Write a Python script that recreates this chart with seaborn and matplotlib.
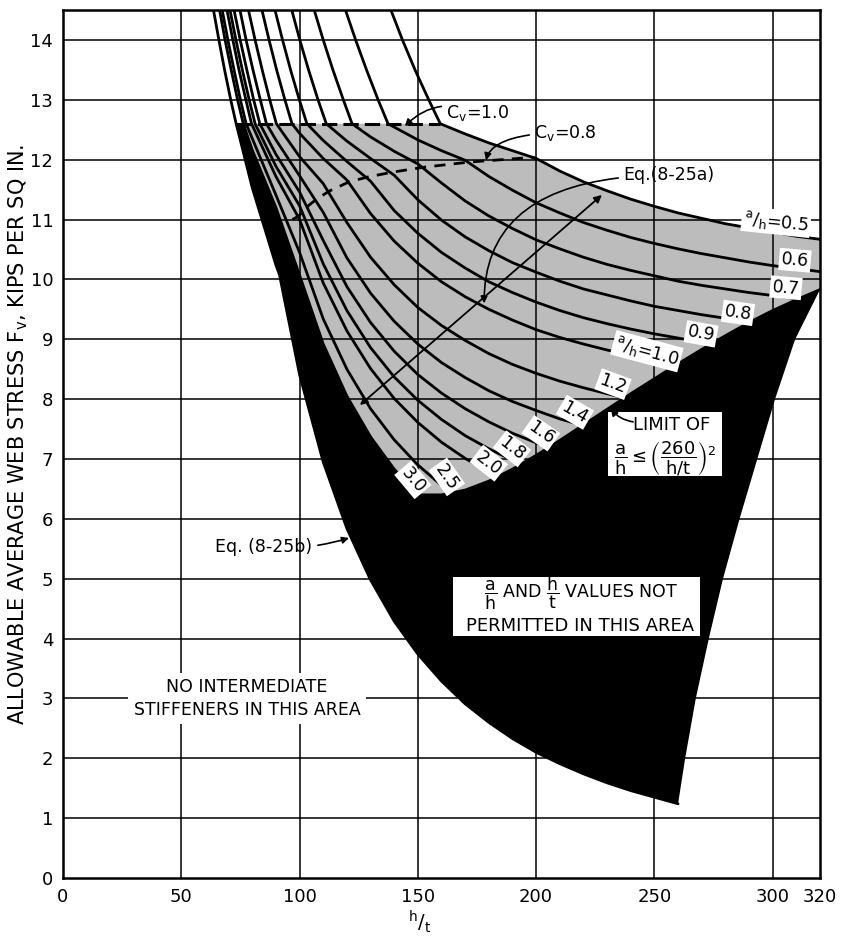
import numpy as np
import pandas as pd
import matplotlib
matplotlib.use("Agg")
import matplotlib.pyplot as plt
from matplotlib.patches import Rectangle
import seaborn as sns

# ---------------- data ----------------
A_H = [0.5, 0.6, 0.7, 0.8, 0.9, 1.0, 1.2, 1.4, 1.6, 1.8, 2.0, 2.5, 3.0]
# h/t where each curve crosses Fv = 14.5, 14.0, 13.5, 13.0 above the 12.6 cap
UPPER_F = [14.5, 14.0, 13.5, 13.0]
UPPER_H145 = [138.6, 119.4, 106.2, 96.7, 89.6, 84.1, 78.4, 74.8, 72.3, 70.6, 69.3, 67.3, 66.2]
UPPER_H140 = [143.5, 123.7, 110.0, 100.1, 92.8, 87.1, 81.2, 77.4, 74.9, 73.1, 71.8, 69.7, 68.5]
UPPER_H135 = [148.8, 128.3, 114.1, 103.8, 96.2, 90.3, 84.2, 80.3, 77.7, 75.8, 74.4, 72.3, 71.1]
UPPER_H130 = [154.6, 133.2, 118.5, 107.8, 99.9, 93.8, 87.4, 83.4, 80.6, 78.7, 77.3, 75.0, 73.8]

H_05 = [159.5, 170, 180, 190, 200, 210, 220, 230, 240, 250, 260, 270, 280, 290, 300, 310, 320]
F_05 = [12.60, 12.43, 12.28, 12.15, 12.02, 11.81, 11.63, 11.48, 11.34, 11.22, 11.11, 11.02, 10.93, 10.86, 10.79, 10.72, 10.67]
H_06 = [137.4, 150, 160, 170, 180, 190, 200, 210, 220, 230, 240, 250, 260, 270, 280, 290, 300, 310, 320]
F_06 = [12.60, 12.33, 12.15, 11.99, 11.72, 11.49, 11.28, 11.11, 10.95, 10.82, 10.70, 10.60, 10.51, 10.43, 10.36, 10.29, 10.23, 10.18, 10.13]
H_07 = [122.2, 130, 140, 150, 160, 170, 180, 190, 200, 210, 220, 230, 240, 250, 260, 270, 280, 290, 300, 310.8]
F_07 = [12.60, 12.38, 12.14, 11.93, 11.61, 11.31, 11.06, 10.85, 10.66, 10.51, 10.37, 10.25, 10.15, 10.06, 9.97, 9.90, 9.84, 9.78, 9.73, 9.67]
H_08 = [111.3, 120, 130, 140, 150, 160, 170, 180, 190, 200, 210, 220, 230, 240, 250, 260, 270, 280, 290.7]
F_08 = [12.60, 12.31, 12.02, 11.74, 11.33, 10.99, 10.71, 10.48, 10.28, 10.12, 9.97, 9.84, 9.74, 9.64, 9.55, 9.48, 9.41, 9.35, 9.29]
H_09 = [103.1, 110, 120, 130, 140, 150, 160, 170, 180, 190, 200, 210, 220, 230, 240, 250, 260, 270, 274.1]
F_09 = [12.60, 12.32, 11.97, 11.64, 11.15, 10.77, 10.45, 10.19, 9.96, 9.78, 9.62, 9.48, 9.36, 9.26, 9.17, 9.09, 9.02, 8.95, 8.93]
H_10 = [96.8, 100, 110, 120, 130, 140, 150, 160, 170, 180, 190, 200, 210, 220, 230, 240, 250, 260]
F_10 = [12.60, 12.44, 12.02, 11.66, 11.10, 10.64, 10.27, 9.96, 9.71, 9.50, 9.32, 9.16, 9.03, 8.92, 8.82, 8.73, 8.65, 8.59]
H_12 = [90.2, 100, 110, 120, 130, 140, 150, 160, 170, 180, 190, 200, 210, 220, 230, 237.3]
F_12 = [12.60, 12.05, 11.60, 10.95, 10.37, 9.91, 9.53, 9.23, 8.98, 8.76, 8.58, 8.43, 8.30, 8.19, 8.09, 8.02]
H_14 = [86.0, 90, 100, 110, 120, 130, 140, 150, 160, 170, 180, 190, 200, 210, 219.7]
F_14 = [12.60, 12.33, 11.73, 11.12, 10.36, 9.77, 9.30, 8.92, 8.61, 8.36, 8.14, 7.96, 7.81, 7.67, 7.56]
H_16 = [83.2, 90, 100, 110, 120, 130, 140, 150, 160, 170, 180, 190, 200, 205.5]
F_16 = [12.60, 12.09, 11.46, 10.65, 9.88, 9.28, 8.80, 8.41, 8.10, 7.84, 7.62, 7.43, 7.27, 7.19]
H_18 = [81.2, 90, 100, 110, 120, 130, 140, 150, 160, 170, 180, 190, 193.8]
F_18 = [12.60, 11.89, 11.23, 10.26, 9.48, 8.86, 8.37, 7.98, 7.66, 7.39, 7.17, 6.98, 6.91]
H_20 = [79.7, 90, 100, 110, 120, 130, 140, 150, 160, 170, 180, 183.8]
F_20 = [12.60, 11.72, 11.00, 9.94, 9.14, 8.51, 8.01, 7.61, 7.28, 7.01, 6.78, 6.71]
H_25 = [77.4, 90, 100, 110, 120, 130, 140, 150, 160, 164.4]
F_25 = [12.60, 11.41, 10.45, 9.34, 8.50, 7.84, 7.32, 6.90, 6.56, 6.43]
H_30 = [76.2, 80, 90, 100, 110, 120, 130, 140, 150.1]
F_30 = [12.60, 12.16, 11.20, 10.07, 8.92, 8.05, 7.37, 6.83, 6.40]

# Eq. (8-25b) (no tension field)
H_B = [63.6, 65.9, 68.3, 70.9, 73.2, 80, 90, 91.5, 100, 110, 120, 130, 140, 150, 160, 170, 180, 190, 200, 210, 220, 230, 240, 250, 260]
F_B = [14.50, 14.00, 13.50, 13.00, 12.60, 11.53, 10.24, 10.08, 8.41, 6.95, 5.84, 4.98, 4.29, 3.74, 3.29, 2.91, 2.60, 2.33, 2.10, 1.91, 1.74, 1.59, 1.46, 1.35, 1.24]
B_CAP = 4  # index of the 12.6 point
# limit a/h <= (260/(h/t))^2
H_LIM = [150, 160, 170, 180, 190, 200, 210, 220, 230, 240, 250, 260, 270, 280, 290, 300, 310, 320]
F_LIM = [6.40, 6.40, 6.48, 6.63, 6.83, 7.06, 7.31, 7.57, 7.83, 8.09, 8.34, 8.59, 8.83, 9.06, 9.28, 9.48, 9.66, 9.83]
# right edge of the "not permitted" area
H_RIGHT = [260, 263, 267.5, 273, 279, 286, 293.5, 301, 309.5, 320]
F_RIGHT = [1.24, 2.0, 3.0, 4.0, 5.0, 6.0, 7.0, 8.0, 9.0, 9.83]
# Cv = 0.8 and Cv = 1.0 loci
H_CV08 = [97.0, 99.7, 101.5, 104.0, 107.5, 112.8, 121.0, 128.8, 139.1, 152.8, 171.8, 199.3]
F_CV08 = [11.00, 11.06, 11.14, 11.24, 11.35, 11.48, 11.63, 11.71, 11.79, 11.875, 11.96, 12.04]
H_CV10 = [73.2, 159.5]
F_CV10 = [12.6, 12.6]

X_TICKS = [0, 50, 100, 150, 200, 250, 300, 320]
Y_TICKS = list(range(0, 15))

CURVE_LABELS = ["$^{a}/_{h}$=0.5", "0.6", "0.7", "0.8", "0.9", "$^{a}/_{h}$=1.0", "1.2", "1.4", "1.6", "1.8", "2.0", "2.5", "3.0"]
LABEL_X = [301.4, 309.4, 305.6, 285.3, 269.7, 246.8, 232.5, 216.4, 202.0, 189.8, 180.0, 162.3, 147.9]
LABEL_Y = [10.96, 10.32, 9.86, 9.44, 9.09, 8.80, 8.25, 7.78, 7.43, 7.17, 6.93, 6.70, 6.65]
LABEL_ROT = [-6, -5, -5, -8, -10, -15, -20, -30, -35, -38, -38, -55, -50]

# ---------------- build tables ----------------
H_LISTS = [H_05, H_06, H_07, H_08, H_09, H_10, H_12, H_14, H_16, H_18, H_20, H_25, H_30]
F_LISTS = [F_05, F_06, F_07, F_08, F_09, F_10, F_12, F_14, F_16, F_18, F_20, F_25, F_30]
rows = []
for j, (r, hs, fs) in enumerate(zip(A_H, H_LISTS, F_LISTS)):
    hh = [UPPER_H145[j], UPPER_H140[j], UPPER_H135[j], UPPER_H130[j]] + hs
    ff = UPPER_F + fs
    for i, (h, f) in enumerate(zip(hh, ff)):
        rows.append({"curve": f"a/h={r}", "order": i, "h": h, "F": f})
for i, (h, f) in enumerate(zip(H_B, F_B)):
    rows.append({"curve": "8-25b", "order": i, "h": h, "F": f})
df = pd.DataFrame(rows)

# ---------------- figure ----------------
sns.set_style("white")
plt.rcParams["font.family"] = ["DejaVu Sans"]
plt.rcParams["mathtext.fontset"] = "dejavusans"
plt.rcParams["mathtext.default"] = "regular"
plt.rcParams["text.color"] = "black"
plt.rcParams["xtick.color"] = "black"
plt.rcParams["ytick.color"] = "black"
plt.rcParams["axes.labelcolor"] = "black"

fig = plt.figure(figsize=(8.41, 9.36), dpi=100)
ax = fig.add_axes([63 / 841, 58 / 936, 757 / 841, 868 / 936])
ax.set_xlim(0, 320)
ax.set_ylim(0, 14.5)

GRAY = "#bcbcbc"
# gray (tension-field) area
gx = [H_30[0]] + H_05 + [320] + H_LIM[::-1] + H_30[::-1]
gy = [12.6] + F_05 + [F_LIM[-1]] + F_LIM[::-1] + F_30[::-1]
ax.fill(gx, gy, color=GRAY, lw=0, zorder=0.5)

# grid
for x in X_TICKS[1:-1]:
    ax.axvline(x, color="black", lw=1.1, zorder=1)
for y in Y_TICKS[1:]:
    ax.axhline(y, color="black", lw=1.1, zorder=1)

# black (not permitted) area
bx = H_B[B_CAP:] + H_RIGHT[1:] + H_LIM[::-1][1:] + H_30[::-1]
by = F_B[B_CAP:] + F_RIGHT[1:] + F_LIM[::-1][1:] + F_30[::-1]
ax.fill(bx, by, color="black", lw=0, zorder=2)

sns.lineplot(data=df, x="h", y="F", units="curve", estimator=None, sort=False,
             color="black", lw=2.0, legend=False, ax=ax, zorder=3)
sns.lineplot(x=H_LIM, y=F_LIM, color="black", lw=2.0, ax=ax, zorder=3)
sns.lineplot(x=H_CV08, y=F_CV08, color="black", lw=2.0, ax=ax, zorder=3,
             linestyle=(0, (4, 3)))
sns.lineplot(x=H_CV10, y=F_CV10, color="black", lw=2.2, ax=ax, zorder=3,
             linestyle=(0, (5, 2)))

ax.set_xlabel("")
ax.set_ylabel("")
ax.set_xticks(X_TICKS)
ax.set_xticklabels([str(v) for v in X_TICKS])
ax.set_yticks(Y_TICKS)
ax.set_yticklabels([str(v) for v in Y_TICKS])
ax.tick_params(length=0, labelsize=13, pad=7, colors="black")
for s in ax.spines.values():
    s.set_visible(True)
    s.set_color("black")
    s.set_linewidth(1.8)
    s.set_zorder(5)

# curve labels
for t, x, y, rot in zip(CURVE_LABELS, LABEL_X, LABEL_Y, LABEL_ROT):
    ax.text(x, y, t, fontsize=12.5, rotation=rot, rotation_mode="anchor", ha="center", va="center",
            zorder=6, bbox=dict(boxstyle="square,pad=0.12", fc="white", ec="none"))

TXT = dict(fontsize=12.5, color="black", zorder=7)
ax.annotate("C$_v$=1.0", xy=(144.5, 12.56), xytext=(161.9, 12.78), ha="left", va="center",
            arrowprops=dict(arrowstyle="-|>", color="black", lw=1.2, shrinkA=1, shrinkB=0,
                            connectionstyle="arc3,rad=0.35", mutation_scale=10), **TXT)
ax.annotate("C$_v$=0.8", xy=(178.8, 11.99), xytext=(199.1, 12.45), ha="left", va="center",
            arrowprops=dict(arrowstyle="-|>", color="black", lw=1.2, shrinkA=1, shrinkB=0,
                            connectionstyle="angle3,angleA=0,angleB=75", mutation_scale=10), **TXT)
ax.annotate("Eq.(8-25a)", xy=(178.0, 9.6), xytext=(236.7, 11.74), ha="left", va="center",
            arrowprops=dict(arrowstyle="-|>", color="black", lw=1.2, shrinkA=1, shrinkB=0,
                            connectionstyle="angle3,angleA=0,angleB=90", mutation_scale=10), **TXT)
ax.annotate("", xy=(227.8, 11.41), xytext=(125.5, 7.9),
            arrowprops=dict(arrowstyle="<|-|>", color="black", lw=1.3, shrinkA=0, shrinkB=0,
                            mutation_scale=11), zorder=7)
ax.annotate("Eq. (8-25b)", xy=(120.9, 5.68), xytext=(105.2, 5.53), ha="right", va="center",
            arrowprops=dict(arrowstyle="-|>", color="black", lw=1.2, shrinkA=2, shrinkB=0,
                            connectionstyle="arc3,rad=0.1", mutation_scale=10), **TXT)

# "LIMIT OF" box
ax.add_patch(Rectangle((230.3, 6.72), 48.2, 1.06, fc="white", ec="none", zorder=6.5))
ax.text(257.4, 7.56, "LIMIT OF", ha="center", va="center", fontsize=13, zorder=7)
ax.text(254.6, 7.02, r"$\dfrac{a}{h} \leq \left(\dfrac{260}{h/t}\right)^{2}$",
        ha="center", va="center", fontsize=13, zorder=7)
ax.annotate("", xy=(231.6, 7.84), xytext=(241.0, 7.62),
            arrowprops=dict(arrowstyle="-|>", color="black", lw=1.2, shrinkA=0, shrinkB=0,
                            connectionstyle="arc3,rad=-0.2", mutation_scale=10), zorder=8)

# "not permitted" box
ax.add_patch(Rectangle((164.8, 4.04), 104.4, 0.98, fc="white", ec="none", zorder=6.5))
ax.text(218.9, 4.75, r"$\dfrac{a}{h}$ AND $\dfrac{h}{t}$ VALUES NOT", ha="center", va="center",
        fontsize=12.5, zorder=7)
ax.text(218.5, 4.21, "PERMITTED IN THIS AREA", ha="center", va="center", fontsize=13, zorder=7)

ax.text(77.8, 3.0, "NO INTERMEDIATE\nSTIFFENERS IN THIS AREA", ha="center", va="center",
        multialignment="center", fontsize=12.5, zorder=7, linespacing=1.3,
        bbox=dict(boxstyle="square,pad=0.3", fc="white", ec="none"))

fig.text(18 / 841, 1 - 434 / 936, r"ALLOWABLE AVERAGE WEB STRESS F$_v$, KIPS PER SQ IN.",
         rotation=90, ha="center", va="center", fontsize=15)
fig.text(420 / 841, 1 - 922 / 936, r"$^{h}/_{t}$", ha="center", va="center", fontsize=14)

fig.savefig("out.png", dpi=100)
